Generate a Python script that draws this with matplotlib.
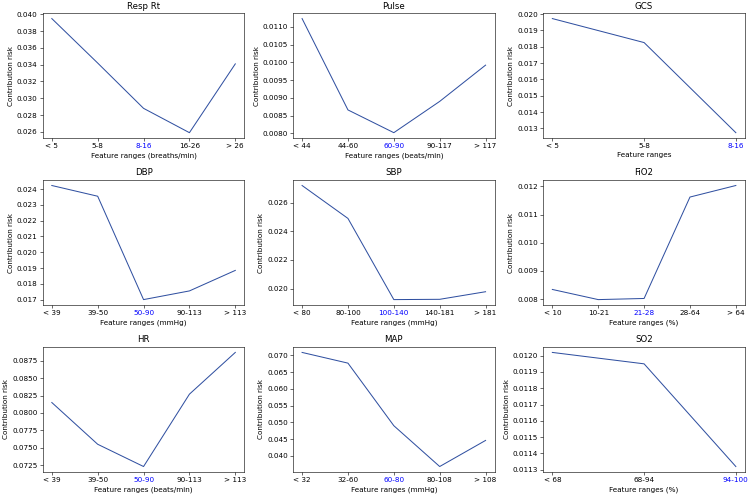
import matplotlib
matplotlib.use("Agg")
import matplotlib.pyplot as plt

titles = ["Resp Rt", "Pulse", "GCS", "DBP", "SBP", "FiO2", "HR", "MAP", "SO2"]

resp_labels = ["< 5", "5-8", "8-16", "16-26", "> 26"]
resp_vals = [0.0395, 0.0342, 0.0288, 0.0259, 0.0341]

pulse_labels = ["< 44", "44-60", "60-90", "90-117", "> 117"]
pulse_vals = [0.01123, 0.00866, 0.00802, 0.00890, 0.00992]

gcs_labels = ["< 5", "5-8", "8-16"]
gcs_vals = [0.01973, 0.01826, 0.01274]

dbp_labels = ["< 39", "39-50", "50-90", "90-113", "> 113"]
dbp_vals = [0.02423, 0.02355, 0.01700, 0.01755, 0.01885]

sbp_labels = ["< 80", "80-100", "100-140", "140-181", "> 181"]
sbp_vals = [0.0272, 0.0249, 0.01923, 0.01925, 0.01978]

fio2_labels = ["< 10", "10-21", "21-28", "28-64", "> 64"]
fio2_vals = [0.00834, 0.00798, 0.00802, 0.01162, 0.01203]

hr_labels = ["< 39", "39-50", "50-90", "90-113", "> 113"]
hr_vals = [0.0815, 0.0755, 0.0723, 0.0827, 0.0887]

map_labels = ["< 32", "32-60", "60-80", "80-108", "> 108"]
map_vals = [0.0709, 0.0677, 0.0490, 0.0368, 0.0446]

so2_labels = ["< 68", "68-94", "94-100"]
so2_vals = [0.01202, 0.01195, 0.01132]

xlabels = ["Feature ranges (breaths/min)", "Feature ranges (beats/min)", "Feature ranges",
           "Feature ranges (mmHg)", "Feature ranges (mmHg)", "Feature ranges (%)",
           "Feature ranges (beats/min)", "Feature ranges (mmHg)", "Feature ranges (%)"]
# index of the "normal" range, drawn in blue
normal_idx = [2, 2, 2, 2, 2, 2, 2, 2, 2]

all_labels = [resp_labels, pulse_labels, gcs_labels, dbp_labels, sbp_labels,
              fio2_labels, hr_labels, map_labels, so2_labels]
all_vals = [resp_vals, pulse_vals, gcs_vals, dbp_vals, sbp_vals,
            fio2_vals, hr_vals, map_vals, so2_vals]

# big figure drawn at low dpi, so default sizes come out small like the original
DPI = 52
fig, axes = plt.subplots(3, 3, figsize=(748 / DPI, 495 / DPI), dpi=DPI)
fig.subplots_adjust(left=0.057, right=0.996, bottom=0.046, top=0.974,
                    wspace=0.24, hspace=0.33)

for i, ax in enumerate(axes.flat):
    labels = all_labels[i]
    ax.plot(labels, all_vals[i], color="#2f4fa0", linewidth=1.4)
    ax.set_title(titles[i])
    ax.set_xlabel(xlabels[i])
    ax.set_ylabel("Contribution risk")
    ax.get_xticklabels()[normal_idx[i]].set_color("blue")

fig.savefig("out.png", dpi=DPI)
